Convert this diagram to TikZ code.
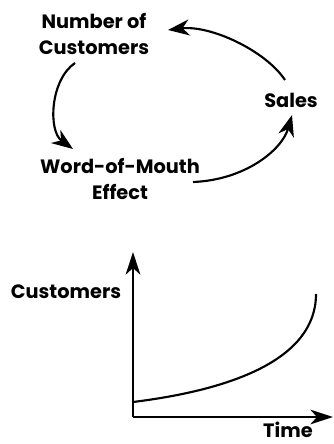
\documentclass[tikz,border=0pt]{standalone}
\usepackage{fontspec}
\setmainfont{Poppins}
\usetikzlibrary{arrows.meta}
\begin{document}
\begin{tikzpicture}[x=0.75pt,y=-0.75pt,
  label/.style={inner sep=0pt,align=center,font=\fontsize{14.5}{19}\selectfont\bfseries},
  loop/.style={line width=1.6pt,-{Stealth[length=16pt,width=12pt,inset=5pt]}},
  axis/.style={line width=1.6pt,-{Stealth[length=17pt,width=11pt,inset=5pt]}},
  curve/.style={line width=1.6pt}]
\useasboundingbox (0,0) rectangle (333,444);

% causal loop
\node[label] (ncust) at (94,34) {Number of\\Customers};
\node[label] (sales) at (291,100) {Sales};
\node[label] (wom) at (120,179) {Word-of-Mouth\\Effect};

\draw[loop] ([shift={(-6,-20)}]sales.center)
  .. controls +(-20,-30) and +(42,-5) .. ([shift={(74,-4)}]ncust.center);
\draw[loop] ([shift={(-19,29)}]ncust.center)
  .. controls +(-25,17) and +(-25,-18) .. ([shift={(-47,-30)}]wom.center);
\draw[loop] ([shift={(73,3)}]wom.center)
  .. controls +(52,-2) and +(-10,35) .. ([shift={(1,15)}]sales.center);

% growth chart
\coordinate (origin) at (133,417);
\coordinate (ytop) at (133,252);
\coordinate (xend) at (333,417);
\draw[axis] (origin) -- (ytop);
\draw[axis] (origin) -- (xend);
\coordinate (cstart) at (133,402);
\coordinate (cend) at (316,294);
\draw[curve] (cstart) .. controls (230,390) and (316,360) .. (cend);
\node[label] (ylab) at (66,292) {Customers};
\node[label] (xlab) at (288,430) {Time};
\end{tikzpicture}
\end{document}
